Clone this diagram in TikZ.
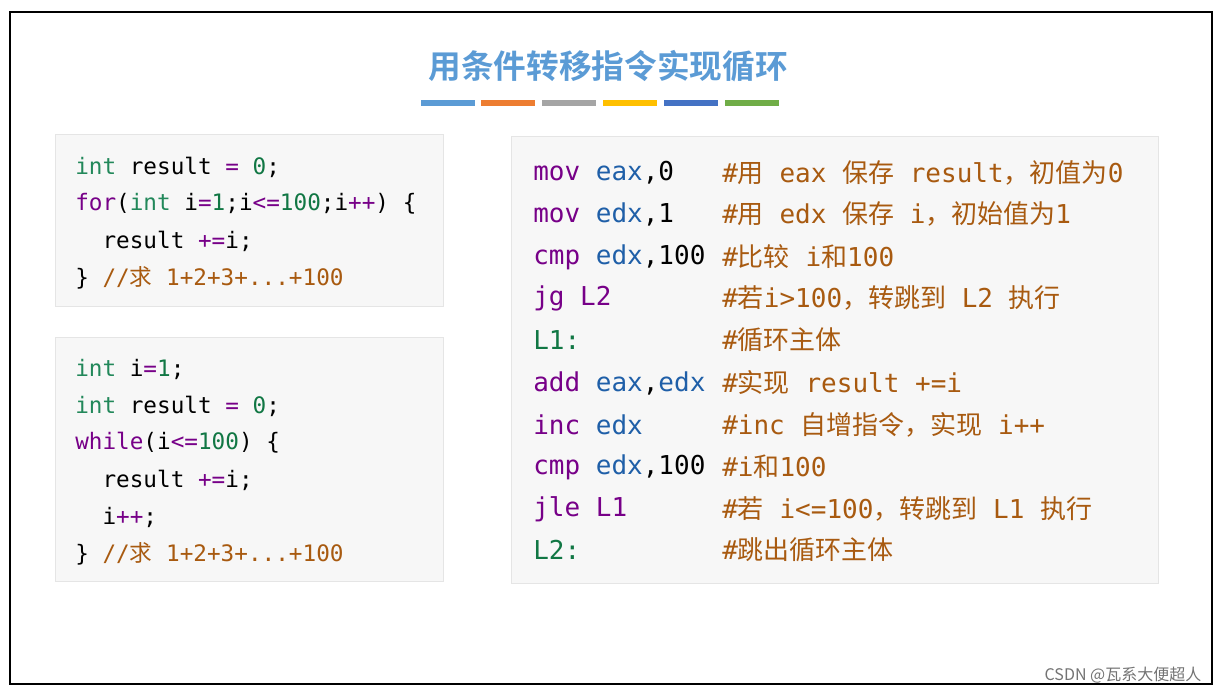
\documentclass[tikz,border=0pt]{standalone}
\usepackage{fontspec}
\setmonofont{DejaVu Sans Mono}
\newfontfamily\cjk{Noto Sans CJK SC}
\newfontfamily\cjkb{Noto Sans CJK SC Bold}
\definecolor{tblue}{HTML}{5B9BD5}
\definecolor{kgreen}{HTML}{22885A}
\definecolor{kpurp}{HTML}{770088}
\definecolor{ngreen}{HTML}{117744}
\definecolor{cbrown}{HTML}{A85A10}
\definecolor{rblue}{HTML}{1F5FA8}
\definecolor{b1}{HTML}{5B9BD5}
\definecolor{b2}{HTML}{ED7D31}
\definecolor{b3}{HTML}{A5A5A5}
\definecolor{b4}{HTML}{FFC000}
\definecolor{b5}{HTML}{4472C4}
\definecolor{b6}{HTML}{70AD47}
\newcommand{\Ki}[1]{\textcolor{kgreen}{#1}}
\newcommand{\Kc}[1]{\textcolor{kpurp}{#1}}
\newcommand{\Kn}[1]{\textcolor{ngreen}{#1}}
\newcommand{\Kcm}[1]{\textcolor{cbrown}{#1}}
\newcommand{\Kr}[1]{\textcolor{rblue}{#1}}
\newcommand{\C}[1]{{\cjk #1}}
\begin{document}
\begin{tikzpicture}[x=0.75pt,y=-0.75pt,
  codebox/.style={fill=black!3,draw=black!10,line width=0.6pt},
  cl/.style={anchor=west,inner sep=0pt,font=\ttfamily\fontsize{17}{20}\selectfont},
  al/.style={anchor=west,inner sep=0pt,font=\ttfamily\fontsize{19.5}{22}\selectfont},
  bar/.style={line width=4.5pt}]
\useasboundingbox (0,0) rectangle (1222,694);
\draw[line width=1.5pt] (10,12) rectangle (1212,684);
\node[font=\cjkb\fontsize{24.5}{28}\selectfont,text=tblue] (title) at (608,66) {用条件转移指令实现循环};
\foreach \a/\c in {421/b1,481/b2,542/b3,603/b4,664/b5,725/b6}
  \draw[bar,color=\c] (\a,103) -- ++(54,0);
\draw[codebox] (55,134) rectangle (443,306);
\node[cl] (a1) at (75,167) {\Ki{int} result \Kc{=} \Kn{0};};
\node[cl] (a2) at (75,204) {\Kc{for}(\Ki{int} i\Kc{=}\Kn{1};i\Kc{<=}\Kn{100};i\Kc{++}) \{};
\node[cl] (a3) at (75,241) {\ \ result \Kc{+=}i;};
\node[cl] (a4) at (75,278) {\} \Kcm{//\C{求} 1+2+3+...+100}};
\draw[codebox] (55,337) rectangle (443,581);
\node[cl] (b1) at (75,369) {\Ki{int} i\Kc{=}\Kn{1};};
\node[cl] (b2) at (75,406) {\Ki{int} result \Kc{=} \Kn{0};};
\node[cl] (b3) at (75,443) {\Kc{while}(i\Kc{<=}\Kn{100}) \{};
\node[cl] (b4) at (75,480) {\ \ result \Kc{+=}i;};
\node[cl] (b5) at (75,517) {\ \ i\Kc{++};};
\node[cl] (b6) at (75,554) {\} \Kcm{//\C{求} 1+2+3+...+100}};
\draw[codebox] (511,136) rectangle (1158,583);
\node[al] (c1) at (533,173) {\Kc{mov} \Kr{eax},0};
\node[al] (c2) at (533,214) {\Kc{mov} \Kr{edx},1};
\node[al] (c3) at (533,257) {\Kc{cmp} \Kr{edx},100};
\node[al] (c4) at (533,298) {\Kc{jg L2}};
\node[al] (c5) at (533,340) {\Kn{L1:}};
\node[al] (c6) at (533,383) {\Kc{add} \Kr{eax},\Kr{edx}};
\node[al] (c7) at (533,425) {\Kc{inc} \Kr{edx}};
\node[al] (c8) at (533,467) {\Kc{cmp} \Kr{edx},100};
\node[al] (c9) at (533,509) {\Kc{jle L1}};
\node[al] (c10) at (533,550) {\Kn{L2:}};
\begin{scope}[every node/.append style={text=cbrown}]
\node[al] (d1) at (722,173) {\#\C{用} eax \C{保存} result\C{，初值为}0};
\node[al] (d2) at (722,214) {\#\C{用} edx \C{保存} i\C{，初始值为}1};
\node[al] (d3) at (722,257) {\#\C{比较} i\C{和}100};
\node[al] (d4) at (722,298) {\#\C{若}i>100\C{，转跳到} L2 \C{执行}};
\node[al] (d5) at (722,340) {\#\C{循环主体}};
\node[al] (d6) at (722,383) {\#\C{实现} result +=i};
\node[al] (d7) at (722,425) {\#inc \C{自增指令，实现} i++};
\node[al] (d8) at (722,467) {\#i\C{和}100};
\node[al] (d9) at (722,509) {\#\C{若} i<=100\C{，转跳到} L1 \C{执行}};
\node[al] (d10) at (722,550) {\#\C{跳出循环主体}};
\end{scope}
\node[anchor=east,font=\cjk\fontsize{12}{14}\selectfont,text=black!55] (w) at (1206,675) {CSDN @瓦系大便超人};
\end{tikzpicture}
\end{document}
